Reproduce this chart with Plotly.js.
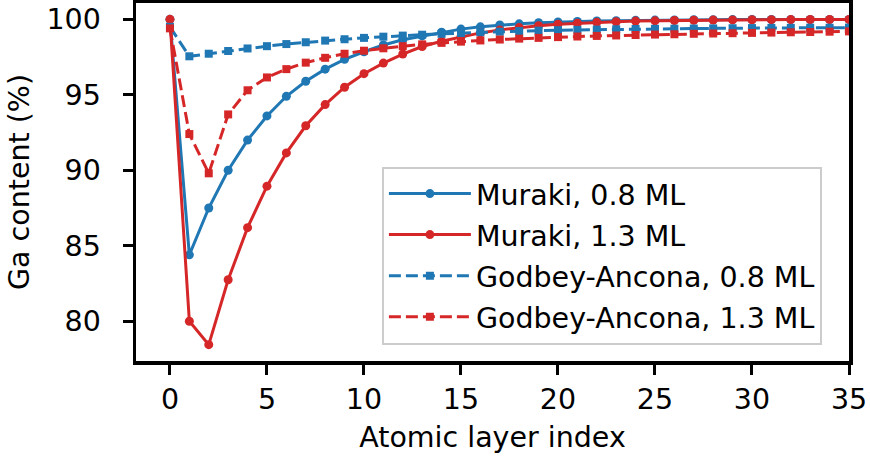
<!DOCTYPE html>
<html>
<head>
<meta charset="utf-8">
<script src="https://cdn.plot.ly/plotly-3.0.1.min.js"></script>
<style>html,body{margin:0;padding:0;background:#fff;}#chart{width:870px;height:461px;}</style>
</head>
<body>
<div id="chart"></div>
<script>
const layerIndex = [0,1,2,3,4,5,6,7,8,9,10,11,12,13,14,15,16,17,18,19,20,21,22,23,24,25,26,27,28,29,30,31,32,33,34,35];
const muraki08 = [100,84.4,87.5,90.0,92.0,93.6,94.9,95.9,96.7,97.35,97.85,98.3,98.65,98.9,99.15,99.35,99.5,99.62,99.7,99.77,99.82,99.86,99.89,99.91,99.93,99.95,99.96,99.97,99.975,99.98,99.985,99.99,99.99,99.99,99.995,99.995];
const muraki13 = [100,80.0,78.45,82.75,86.2,88.95,91.15,92.95,94.35,95.5,96.4,97.1,97.7,98.2,98.55,98.85,99.1,99.3,99.45,99.57,99.67,99.74,99.8,99.84,99.88,99.9,99.92,99.94,99.95,99.96,99.97,99.975,99.98,99.985,99.99,99.99];
const godbey08 = [99.5,97.55,97.72,97.9,98.07,98.22,98.36,98.48,98.59,98.68,98.77,98.85,98.92,98.98,99.04,99.09,99.14,99.18,99.22,99.25,99.28,99.3,99.32,99.34,99.36,99.37,99.38,99.39,99.4,99.41,99.42,99.43,99.43,99.44,99.44,99.45];
const godbey13 = [99.4,92.4,89.8,93.7,95.3,96.15,96.7,97.13,97.45,97.72,97.92,98.08,98.22,98.34,98.44,98.52,98.6,98.66,98.72,98.77,98.82,98.86,98.9,98.93,98.96,98.99,99.01,99.04,99.06,99.08,99.1,99.12,99.14,99.16,99.18,99.2];
const seriesNames = ["Muraki, 0.8 ML","Muraki, 1.3 ML","Godbey-Ancona, 0.8 ML","Godbey-Ancona, 1.3 ML"];
const xTicks = [0,5,10,15,20,25,30,35];
const yTicks = [80,85,90,95,100];

const BLUE = "#1f77b4", RED = "#d62728";
const DASH = "12px,5px";
function tr(y, name, color, symbol, size, dash, g){
  return {x: layerIndex, y: y, name: name, type: "scatter", mode: "lines+markers",
    legendgroup: g,
    line: {color: color, width: 3, dash: dash},
    marker: {color: color, symbol: symbol, size: size, line:{width:0}}};
}
const data = [
  tr(muraki08, seriesNames[0], BLUE, "circle", 9, "solid", "a"),
  tr(muraki13, seriesNames[1], RED, "circle", 9, "solid", "b"),
  tr(godbey08, seriesNames[2], BLUE, "square", 8, DASH, "c"),
  tr(godbey13, seriesNames[3], RED, "square", 8, DASH, "d")
];
const font = {family: "DejaVu Sans, sans-serif", size: 28.5, color: "#000"};
const layout = {
  width: 870, height: 461,
  margin: {l: 136, r: 21, t: 3, b: 100, pad: 0},
  paper_bgcolor: "#fff", plot_bgcolor: "#fff",
  font: font,
  showlegend: true,
  xaxis: {range: [-1.75, 35], tickvals: xTicks, ticktext: xTicks.map(String),
    showgrid: false, zeroline: false, showline: true, mirror: true, linecolor: "#000", linewidth: 3.5,
    ticks: "outside", ticklen: 10, tickwidth: 3, tickcolor: "#000", tickfont: font,
    title: {text: "Atomic layer index", font: font, standoff: 13}},
  yaxis: {range: [77.37, 101.08], tickvals: yTicks, ticktext: yTicks.map(String),
    showgrid: false, zeroline: false, showline: true, mirror: true, linecolor: "#000", linewidth: 3.5,
    ticks: "outside", ticklen: 10, tickwidth: 3, tickcolor: "#000", tickfont: font,
    ticklabelstandoff: 16,
    title: {text: "Ga content (%)", font: font, standoff: 9}},
  legend: {x: 0.962, y: 0.046, xanchor: "right", yanchor: "bottom",
    bgcolor: "rgba(255,255,255,0.8)", bordercolor: "#cccccc", borderwidth: 2,
    font: font, traceorder: "grouped", tracegroupgap: 1, itemwidth: 82}
};
Plotly.newPlot("chart", data, layout, {staticPlot: true, displayModeBar: false});
</script>
</body>
</html>
